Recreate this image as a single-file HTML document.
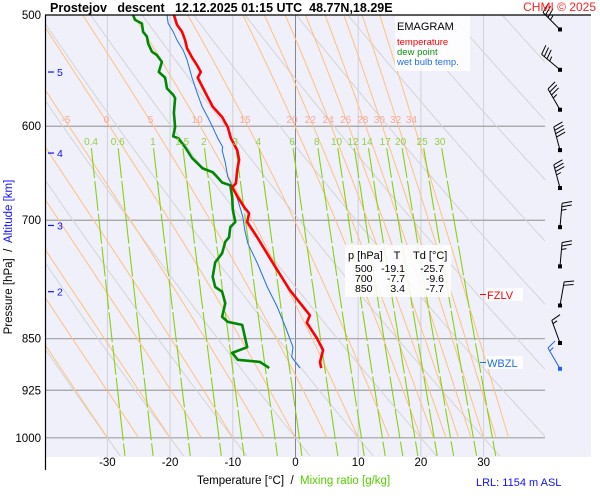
<!DOCTYPE html>
<html><head><meta charset="utf-8"><style>
body{margin:0;background:#fff;}
svg{display:block;font-family:"Liberation Sans",sans-serif;}
</style></head><body>
<svg id="c" width="600" height="500" viewBox="0 0 600 500">
<defs><clipPath id="pc"><rect x="46" y="15" width="499" height="442"/></clipPath></defs>
<rect x="45" y="15" width="546" height="442" fill="#f0f0fb"/>
<g id="grid"></g><g id="adiab" clip-path="url(#pc)"></g><g id="mix" clip-path="url(#pc)"></g><g id="series"></g><g id="barbs"></g><g id="labels"></g>
<text x="50" y="12" font-size="12.5" font-weight="bold" xml:space="preserve">Prostejov   descent   12.12.2025 01:15 UTC  48.77N,18.29E</text>
<text x="596" y="11" font-size="12" fill="#ff2020" text-anchor="end">CHMI © 2025</text>
<line x1="45" y1="15" x2="591" y2="15" stroke="#000" stroke-width="1.2"/>
<line x1="45.5" y1="15" x2="45.5" y2="470" stroke="#000" stroke-width="1.2"/>
<rect x="395" y="16" width="75" height="55" fill="#fff" opacity="0.85"/>
<text x="397" y="30" font-size="11">EMAGRAM</text>
<text x="397" y="45" font-size="9.5" fill="#ff0000">temperature</text>
<text x="397" y="55" font-size="9.5" fill="#109010">dew point</text>
<text x="397" y="65" font-size="9.5" fill="#2070e0">wet bulb temp.</text>
<rect x="345" y="245" width="106" height="52" fill="#fff" opacity="0.85"/>
<g font-size="10.5">
<text x="348" y="259" font-size="11">p [hPa]</text><text x="397" y="259" font-size="11" text-anchor="middle">T</text><text x="413" y="259" font-size="11">Td [°C]</text>
<text x="355" y="272">500</text><text x="405" y="272" text-anchor="end">-19.1</text><text x="444" y="272" text-anchor="end">-25.7</text>
<text x="355" y="282">700</text><text x="405" y="282" text-anchor="end">-7.7</text><text x="444" y="282" text-anchor="end">-9.6</text>
<text x="355" y="292">850</text><text x="405" y="292" text-anchor="end">3.4</text><text x="444" y="292" text-anchor="end">-7.7</text>
</g>
<rect x="486" y="288" width="37" height="13" fill="#fff" opacity="0.85"/>
<line x1="480" y1="294.5" x2="486" y2="294.5" stroke="#ff0000"/>
<text x="487" y="299" font-size="11" fill="#ff0000">FZLV</text>
<rect x="486" y="356" width="37" height="13" fill="#fff" opacity="0.85"/>
<line x1="480" y1="362.5" x2="486" y2="362.5" stroke="#2070e0"/>
<text x="487" y="367" font-size="11" fill="#2070e0">WBZL</text>
<text transform="translate(12,257) rotate(-90)" font-size="11.5" text-anchor="middle" xml:space="preserve">Pressure [hPa]  /  <tspan fill="#1010ff">Altitude [km]</tspan></text>
<text x="197" y="484" font-size="11.5" xml:space="preserve">Temperature [°C]  /  <tspan fill="#55cc00">Mixing ratio [g/kg]</tspan></text>
<text x="476" y="486" font-size="11" fill="#1010ff">LRL: 1154 m ASL</text>
</svg>
<script>
// ---- data ----
const pLevels=[500,600,700,850,925,1000];
const tTicks=[-30,-20,-10,0,10,20,30];
const altKm=[5,4,3,2];
const altP=[549,627,706,787];
const thetaW=[-30,-25,-20,-15,-10,-5,0,5,10,15,20,22,24,26,28,30,32,34];
const thetaWLabels=[-5,0,5,10,15,20,22,24,26,28,30,32,34];
const dryTheta=[-30,-20,-10,0,10,20,30,40,50,60,70,80,90,100];
const mixRatios=[0.4,0.6,1,1.5,2,3,4,6,8,10,12,14,17,20,25,30];
const tempP=[500,508,514,521,528,536,543,549,554,563,572,581,591,601,612,624,634,645,659,663,674,686,692,702,720,751,785,818,828,849,866,883,892];
const tempT=[-19.4,-18.9,-18.1,-17.6,-17.3,-16.5,-15.7,-15.1,-15.6,-14.8,-14.0,-13.2,-11.7,-10.8,-10.3,-9.3,-9.0,-9.3,-9.5,-10.1,-9.2,-8.1,-7.4,-7.7,-6.1,-3.6,-0.9,2.3,1.8,3.4,4.4,3.9,4.1];
const dewP=[500,504,507,514,518,524,531,534,540,549,554,564,570,573,587,601,610,612,621,624,632,643,647,652,658,661,674,688,702,708,720,725,739,750,768,781,787,802,820,827,831,862,870,880,883,890,892];
const dewT=[-25.9,-25.6,-24.5,-24.3,-23.7,-23.5,-22.9,-22.1,-21.3,-21.8,-20.8,-20.5,-19.5,-19.2,-19.4,-19.2,-19.5,-18.7,-17.6,-17.3,-16.5,-14.8,-13.2,-12.5,-11.7,-10.4,-10.1,-10.0,-9.6,-10.4,-10.6,-11.2,-11.7,-12.8,-13.2,-12.8,-11.7,-11.2,-11.7,-10.8,-8.5,-7.7,-10.1,-9.2,-5.7,-4.5,-4.2];
const wbP=[500,507,514,521,530,538,554,568,581,591,601,612,621,624,637,652,663,677,696,711,727,751,781,807,834,862,876,892];
const wbT=[-20.5,-20.3,-19.5,-18.9,-17.9,-17.3,-16.5,-15.7,-14.9,-14.0,-13.2,-12.4,-11.6,-11.7,-11.2,-10.8,-10.0,-9.2,-8.4,-8.1,-7.6,-6.1,-4.5,-2.9,-1.6,-0.4,-0.6,0.7];
const windP=[512,547,584,624,664,708,755,805,856,893];
const windDir=[315,310,330,345,345,5,5,10,340,330];
const windKt=[35,35,35,40,35,25,25,20,15,15];

// ---- scales ----
const X0=295.5,KX=6.27,Y0=15,KY=610;
const xs=t=>X0+KX*t;
const ys=p=>Y0+KY*Math.log(p/500);
const NS="http://www.w3.org/2000/svg";
function mk(tag,at,parent){const e=document.createElementNS(NS,tag);for(const k in at)e.setAttribute(k,at[k]);parent.appendChild(e);return e;}
const G=id=>document.getElementById(id);
const PB=1030;
for(const t of tTicks){
  const l=mk('line',{x1:xs(t),y1:15,x2:xs(t),y2:457,stroke:t===0?'#888':'#d0d0d8','stroke-width':1},G('grid'));
  
  
  const tx=mk('text',{x:xs(t),y:466,'font-size':11.5,'text-anchor':'middle'},G('labels'));tx.textContent=t;
  
  
}
for(const p of pLevels){
  if(p!==500){const l=mk('line',{x1:45,y1:ys(p),x2:545,y2:ys(p),stroke:'#a0a0a0','stroke-width':1.2},G('grid'));
  
  }
  const tx=mk('text',{x:41,y:ys(p)+4,'font-size':11.5,'text-anchor':'end'},G('labels'));tx.textContent=p;
  
  
}
altKm.forEach((k,i)=>{
  const y=ys(altP[i]);
  const l=mk('line',{x1:48,y1:y,x2:54,y2:y,stroke:'#1010ff','stroke-width':1.2},G('labels'));
  
  
  const tx=mk('text',{x:57,y:y+4,'font-size':10.5,fill:'#1010ff'},G('labels'));tx.textContent=k;
  
  
});
for(const th of dryTheta){
  const T=th+273.15;let d='';
  for(let p=500;p<=PB;p+=10){const x=xs(T*Math.pow(p/1000,0.2857)-273.15);d+=(d?'L':'M')+x.toFixed(1)+' '+ys(p).toFixed(1);}
  const e=mk('path',{d:d,fill:'none',stroke:'#d4d4d4','stroke-width':1},G('adiab'));
  
  
}
function es(tc){return 6.112*Math.exp(17.67*tc/(tc+243.5));}
function dTdp(T,p){const e=es(T-273.15);const rs=0.622*e/(p-e);return (287*T+2.5e6*rs)/(p*(1005+2.5e6*2.5e6*rs*0.622/(287*T*T)));}
for(const tw of thetaW){
  let T=tw+273.15,p=1000;const pts=[[p,T]];
  while(p>500){T-=dTdp(T,p)*2;p-=2;pts.push([p,T]);}
  const d=pts.map((q,i)=>(i?'L':'M')+xs(q[1]-273.15).toFixed(1)+' '+ys(q[0]).toFixed(1)).join('');
  const e=mk('path',{d:d,fill:'none',stroke:'#ffc080','stroke-width':1},G('adiab'));
  
  
  if(thetaWLabels.includes(tw)){
    const q=pts.find(a=>a[0]<=600);
    const tx=mk('text',{x:xs(q[1]-273.15)-3,y:ys(600)-3,'font-size':10,fill:'#f8a898','text-anchor':'middle'},G('labels'));tx.textContent=tw;
    
    
  }
}
function tMix(w,p){const e=w*p/(622+w);const l=Math.log(e/6.112);return 243.5*l/(17.67-l);}
for(const w of mixRatios){
  let d='';
  for(let p=622;p<=PB;p+=8){d+=(d?'L':'M')+xs(tMix(w,p)).toFixed(1)+' '+ys(p).toFixed(1);}
  const e=mk('path',{d:d,fill:'none',stroke:'#88d010','stroke-width':1.1,'stroke-dasharray':'30 3'},G('mix'));
  
  
  const tx=mk('text',{x:xs(tMix(w,600))+2,y:ys(600)+19,'font-size':10,fill:'#90d040','text-anchor':'middle'},G('labels'));tx.textContent=w;
  
  
}
function line(P,T,col,w,name){
  const d=P.map((p,i)=>(i?'L':'M')+xs(T[i]).toFixed(1)+' '+ys(p).toFixed(1)).join('');
  const e=mk('path',{d:d,fill:'none',stroke:col,'stroke-width':w,'stroke-linejoin':'round'},G('series'));
  
  
}
line(wbP,wbT,'#2070e0',1,'wet-bulb-line');
line(dewP,dewT,'#008800',2.6,'dew-point-line');
line(tempP,tempT,'#ff0000',2.6,'temperature-line');
windP.forEach((p,i)=>{
  const x=560,y=ys(p);const col=i===windP.length-1?'#2060ff':'#000';
  const a=windDir[i]*Math.PI/180;const ux=Math.sin(a),uy=-Math.cos(a);
  const L=24;const ex=x+ux*L,ey=y+uy*L;
  const g=mk('g',{stroke:col,fill:'none','stroke-width':1},G('barbs'));
  
  
  mk('line',{x1:x,y1:y,x2:ex,y2:ey},g);
  mk('rect',{x:x-2,y:y-2,width:4,height:4,fill:col,stroke:'none'},g);
  const b=a+75*Math.PI/180;const bx=Math.sin(b),by=-Math.cos(b);
  let s=windKt[i],k=0;
  while(s>=10){const px=ex-ux*k*3.5,py=ey-uy*k*3.5;mk('line',{x1:px,y1:py,x2:px+bx*10,y2:py+by*10},g);s-=10;k++;}
  if(s>=5){const px=ex-ux*k*3.5,py=ey-uy*k*3.5;mk('line',{x1:px,y1:py,x2:px+bx*5,y2:py+by*5},g);}
});
</script>
</body></html>
